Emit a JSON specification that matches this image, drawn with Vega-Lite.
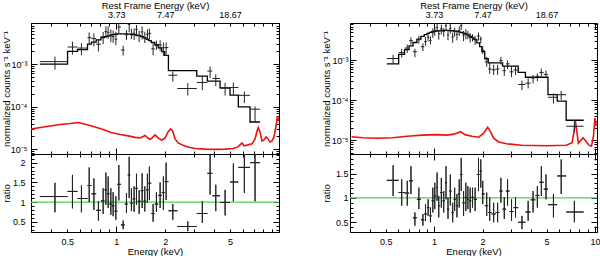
{
"$schema": "https://vega.github.io/schema/vega-lite/v6.json",
"padding": 0,
"columns": 2,
"spacing": {"row": 0, "column": 71},
"bounds": "flush",
"config": {
  "font": "Liberation Sans",
  "view": {"stroke": "#000", "strokeWidth": 1},
  "axis": {"domain": false, "grid": false, "tickColor": "#000", "tickWidth": 1, "labelColor": "#000", "titleColor": "#000", "labelFontSize": 9, "titleFontSize": 9.5, "titleFontWeight": "normal", "labelOverlap": false, "labelFlush": false}
},
"datasets": {
"L": [
{"E":0.421,"lo":0.34,"hi":0.503,"r":1.14,"rl":0.74,"rh":1.49,"d":0.00114,"dl":0.00074,"dh":0.00149},
{"E":0.539,"lo":0.503,"hi":0.579,"r":1.27,"rl":0.84,"rh":1.69,"d":0.00251,"dl":0.00166,"dh":0.00335},
{"E":0.612,"lo":0.579,"hi":0.667,"r":1.09,"rl":0.74,"rh":1.42,"d":0.00237,"dl":0.00161,"dh":0.00308},
{"E":0.683,"lo":0.667,"hi":0.705,"r":1.42,"rl":1.0,"rh":1.88,"d":0.00416,"dl":0.00293,"dh":0.00551},
{"E":0.73,"lo":0.705,"hi":0.754,"r":1.21,"rl":0.8,"rh":1.6,"d":0.00396,"dl":0.00262,"dh":0.00523},
{"E":0.778,"lo":0.754,"hi":0.806,"r":0.79,"rl":0.53,"rh":1.02,"d":0.00292,"dl":0.00196,"dh":0.00377},
{"E":0.832,"lo":0.806,"hi":0.848,"r":1.03,"rl":0.7,"rh":1.35,"d":0.00433,"dl":0.00294,"dh":0.00567},
{"E":0.865,"lo":0.848,"hi":0.878,"r":1.31,"rl":0.93,"rh":1.75,"d":0.00576,"dl":0.00409,"dh":0.0077},
{"E":0.893,"lo":0.878,"hi":0.91,"r":1.21,"rl":0.85,"rh":1.65,"d":0.00557,"dl":0.00391,"dh":0.00759},
{"E":0.928,"lo":0.91,"hi":0.942,"r":0.95,"rl":0.68,"rh":1.35,"d":0.00456,"dl":0.00326,"dh":0.00648},
{"E":0.958,"lo":0.942,"hi":0.976,"r":0.9,"rl":0.64,"rh":1.25,"d":0.00441,"dl":0.00314,"dh":0.00613},
{"E":0.996,"lo":0.976,"hi":1.017,"r":0.77,"rl":0.55,"rh":1.15,"d":0.00385,"dl":0.00275,"dh":0.00575},
{"E":1.039,"lo":1.017,"hi":1.07,"r":1.45,"rl":1.04,"rh":1.94,"d":0.0074,"dl":0.0053,"dh":0.00989},
{"E":1.104,"lo":1.07,"hi":1.129,"r":0.42,"rl":0.31,"rh":0.53,"d":0.00214,"dl":0.00158,"dh":0.0027},
{"E":1.157,"lo":1.129,"hi":1.178,"r":0.95,"rl":0.72,"rh":1.23,"d":0.00485,"dl":0.00367,"dh":0.00627},
{"E":1.202,"lo":1.178,"hi":1.22,"r":1.69,"rl":1.1,"rh":2.15,"d":0.00853,"dl":0.00556,"dh":0.01086},
{"E":1.241,"lo":1.22,"hi":1.264,"r":0.97,"rl":0.77,"rh":1.35,"d":0.00485,"dl":0.00385,"dh":0.00675},
{"E":1.289,"lo":1.264,"hi":1.31,"r":1.08,"rl":0.75,"rh":1.4,"d":0.00529,"dl":0.00368,"dh":0.00686},
{"E":1.333,"lo":1.31,"hi":1.357,"r":1.35,"rl":0.93,"rh":1.72,"d":0.00648,"dl":0.00446,"dh":0.00826},
{"E":1.384,"lo":1.357,"hi":1.414,"r":1.02,"rl":0.7,"rh":1.3,"d":0.00474,"dl":0.00326,"dh":0.00605},
{"E":1.444,"lo":1.414,"hi":1.471,"r":1.29,"rl":0.85,"rh":1.73,"d":0.00568,"dl":0.00374,"dh":0.00761},
{"E":1.5,"lo":1.471,"hi":1.528,"r":1.02,"rl":0.76,"rh":1.4,"d":0.00418,"dl":0.00312,"dh":0.00574},
{"E":1.556,"lo":1.528,"hi":1.579,"r":1.31,"rl":0.98,"rh":1.72,"d":0.00498,"dl":0.00372,"dh":0.00654},
{"E":1.6,"lo":1.579,"hi":1.642,"r":1.48,"rl":1.05,"rh":1.9,"d":0.00525,"dl":0.00373,"dh":0.00675},
{"E":1.686,"lo":1.642,"hi":1.725,"r":0.71,"rl":0.5,"rh":0.95,"d":0.00227,"dl":0.0016,"dh":0.00304},
{"E":1.767,"lo":1.725,"hi":1.813,"r":0.95,"rl":0.75,"rh":1.25,"d":0.00271,"dl":0.00214,"dh":0.00356},
{"E":1.862,"lo":1.813,"hi":1.905,"r":1.17,"rl":0.85,"rh":1.5,"d":0.00281,"dl":0.00204,"dh":0.0036},
{"E":1.95,"lo":1.905,"hi":1.987,"r":1.24,"rl":0.8,"rh":1.65,"d":0.00242,"dl":0.00156,"dh":0.00322},
{"E":2.027,"lo":1.987,"hi":2.094,"r":1.52,"rl":1.05,"rh":2.0,"d":0.00243,"dl":0.00168,"dh":0.0032},
{"E":2.229,"lo":2.094,"hi":2.377,"r":0.78,"rl":0.55,"rh":0.95,"d":0.000546,"dl":0.000385,"dh":0.000665},
{"E":2.754,"lo":2.377,"hi":3.127,"r":0.38,"rl":0.26,"rh":0.51,"d":0.000266,"dl":0.000182,"dh":0.000357},
{"E":3.382,"lo":3.127,"hi":3.632,"r":0.71,"rl":0.47,"rh":1.02,"d":0.000369,"dl":0.000244,"dh":0.00053},
{"E":3.774,"lo":3.632,"hi":3.897,"r":1.73,"rl":1.19,"rh":2.2,"d":0.000683,"dl":0.00047,"dh":0.000869},
{"E":4.091,"lo":3.897,"hi":4.345,"r":1.16,"rl":0.77,"rh":1.44,"d":0.000458,"dl":0.000304,"dh":0.000569},
{"E":4.667,"lo":4.345,"hi":5.005,"r":0.99,"rl":0.66,"rh":1.31,"d":0.000272,"dl":0.000182,"dh":0.00036},
{"E":5.245,"lo":5.005,"hi":5.627,"r":1.51,"rl":1.02,"rh":1.98,"d":0.000281,"dl":0.00019,"dh":0.000368},
{"E":6.128,"lo":5.627,"hi":6.639,"r":1.88,"rl":1.23,"rh":2.3,"d":0.000184,"dl":0.000121,"dh":0.000225},
{"E":7.126,"lo":6.639,"hi":7.644,"r":2.0,"rl":1.02,"rh":2.3,"d":0.000087,"dl":0.0000444,"dh":0.0001}
],
"LM": [
{"E":0.34,"m":0.001},{"E":0.503,"m":0.00198},{"E":0.579,"m":0.00217},{"E":0.667,"m":0.00293},{"E":0.705,"m":0.00327},{"E":0.754,"m":0.0037},{"E":0.806,"m":0.0042},{"E":0.848,"m":0.0044},{"E":0.878,"m":0.0046},{"E":0.91,"m":0.0048},{"E":0.942,"m":0.0049},{"E":0.976,"m":0.005},{"E":1.017,"m":0.0051},{"E":1.07,"m":0.0051},{"E":1.129,"m":0.0051},{"E":1.178,"m":0.00505},{"E":1.22,"m":0.005},{"E":1.264,"m":0.0049},{"E":1.31,"m":0.0048},{"E":1.357,"m":0.00465},{"E":1.414,"m":0.0044},{"E":1.471,"m":0.0041},{"E":1.528,"m":0.0038},{"E":1.579,"m":0.00355},{"E":1.642,"m":0.0032},{"E":1.725,"m":0.00285},{"E":1.813,"m":0.0024},{"E":1.905,"m":0.00195},{"E":1.987,"m":0.0016},{"E":2.094,"m":0.0007},{"E":3.127,"m":0.00052},{"E":3.632,"m":0.000395},{"E":4.345,"m":0.000275},{"E":5.005,"m":0.000186},{"E":5.627,"m":0.000098},{"E":6.639,"m":0.0000435},{"E":7.644,"m":0.0000435}
],
"LR": [
{"E":0.297,"v":2.93e-5},{"E":0.342,"v":3.23e-5},{"E":0.394,"v":3.5e-5},{"E":0.453,"v":3.8e-5},{"E":0.522,"v":4.01e-5},{"E":0.584,"v":4.23e-5},{"E":0.619,"v":4.01e-5},{"E":0.673,"v":3.7e-5},{"E":0.743,"v":3.32e-5},{"E":0.832,"v":2.9e-5},{"E":0.932,"v":2.47e-5},{"E":1.058,"v":2.22e-5},{"E":1.185,"v":2.05e-5},{"E":1.308,"v":1.89e-5},{"E":1.404,"v":1.84e-5},{"E":1.464,"v":1.99e-5},{"E":1.506,"v":2.1e-5},{"E":1.55,"v":1.89e-5},{"E":1.617,"v":1.69e-5},{"E":1.663,"v":1.84e-5},{"E":1.735,"v":2.16e-5},{"E":1.81,"v":1.84e-5},{"E":1.907,"v":1.62e-5},{"E":1.998,"v":1.84e-5},{"E":2.084,"v":2.54e-5},{"E":2.16,"v":2.98e-5},{"E":2.222,"v":2.68e-5},{"E":2.301,"v":1.74e-5},{"E":2.401,"v":1.4e-5},{"E":2.577,"v":1.23e-5},{"E":2.765,"v":1.13e-5},{"E":3.052,"v":1.04e-5},{"E":3.516,"v":1.0e-5},{"E":4.05,"v":0.99e-5},{"E":4.665,"v":1.0e-5},{"E":5.222,"v":1.04e-5},{"E":5.604,"v":1.13e-5},{"E":5.765,"v":1.26e-5},{"E":5.929,"v":1.4e-5},{"E":6.099,"v":1.19e-5},{"E":6.454,"v":1.26e-5},{"E":6.83,"v":1.33e-5},{"E":7.125,"v":1.74e-5},{"E":7.329,"v":2.68e-5},{"E":7.464,"v":3.23e-5},{"E":7.645,"v":2.54e-5},{"E":7.864,"v":1.56e-5},{"E":8.091,"v":1.65e-5},{"E":8.323,"v":1.94e-5},{"E":8.562,"v":1.74e-5},{"E":8.807,"v":1.48e-5},{"E":9.059,"v":1.56e-5},{"E":9.318,"v":1.94e-5},{"E":9.585,"v":3.5e-5},{"E":9.79,"v":6.0e-5},{"E":9.93,"v":4.58e-5}
],
"R": [
{"E":0.556,"lo":0.508,"hi":0.602,"r":1.36,"rl":1.04,"rh":1.67,"d":0.001115,"dl":0.000853,"dh":0.001369},
{"E":0.629,"lo":0.602,"hi":0.655,"r":1.11,"rl":0.84,"rh":1.38,"d":0.001565,"dl":0.001184,"dh":0.001946},
{"E":0.681,"lo":0.655,"hi":0.699,"r":1.1,"rl":0.84,"rh":1.35,"d":0.002035,"dl":0.001554,"dh":0.002498},
{"E":0.718,"lo":0.699,"hi":0.739,"r":1.35,"rl":1.08,"rh":1.65,"d":0.003105,"dl":0.002484,"dh":0.003795},
{"E":0.76,"lo":0.739,"hi":0.782,"r":0.59,"rl":0.43,"rh":0.7,"d":0.001652,"dl":0.001204,"dh":0.00196},
{"E":0.804,"lo":0.782,"hi":0.828,"r":0.97,"rl":0.77,"rh":1.21,"d":0.003298,"dl":0.002618,"dh":0.004114},
{"E":0.852,"lo":0.828,"hi":0.868,"r":0.55,"rl":0.43,"rh":0.67,"d":0.0022,"dl":0.00172,"dh":0.00268},
{"E":0.884,"lo":0.868,"hi":0.902,"r":0.67,"rl":0.53,"rh":0.87,"d":0.002948,"dl":0.002332,"dh":0.003828},
{"E":0.918,"lo":0.902,"hi":0.934,"r":0.8,"rl":0.63,"rh":0.97,"d":0.0038,"dl":0.002993,"dh":0.004608},
{"E":0.949,"lo":0.934,"hi":0.965,"r":0.63,"rl":0.5,"rh":0.8,"d":0.00315,"dl":0.0025,"dh":0.004},
{"E":0.982,"lo":0.965,"hi":0.996,"r":0.94,"rl":0.7,"rh":1.21,"d":0.004888,"dl":0.00364,"dh":0.006292},
{"E":1.01,"lo":0.996,"hi":1.027,"r":1.04,"rl":0.77,"rh":1.31,"d":0.005564,"dl":0.00412,"dh":0.007009},
{"E":1.044,"lo":1.027,"hi":1.057,"r":1.21,"rl":0.94,"rh":1.52,"d":0.006595,"dl":0.005123,"dh":0.008284},
{"E":1.069,"lo":1.057,"hi":1.089,"r":0.84,"rl":0.6,"rh":1.04,"d":0.00462,"dl":0.0033,"dh":0.00572},
{"E":1.109,"lo":1.089,"hi":1.128,"r":1.11,"rl":0.8,"rh":1.41,"d":0.006161,"dl":0.00444,"dh":0.007826},
{"E":1.148,"lo":1.128,"hi":1.168,"r":0.94,"rl":0.7,"rh":1.14,"d":0.005264,"dl":0.00392,"dh":0.006384},
{"E":1.186,"lo":1.168,"hi":1.203,"r":1.31,"rl":0.97,"rh":1.65,"d":0.007336,"dl":0.005432,"dh":0.00924},
{"E":1.22,"lo":1.203,"hi":1.241,"r":0.77,"rl":0.57,"rh":1.01,"d":0.004312,"dl":0.003192,"dh":0.005656},
{"E":1.261,"lo":1.241,"hi":1.283,"r":1.14,"rl":0.84,"rh":1.48,"d":0.006327,"dl":0.004662,"dh":0.008214},
{"E":1.305,"lo":1.283,"hi":1.323,"r":0.7,"rl":0.5,"rh":0.9,"d":0.00385,"dl":0.00275,"dh":0.00495},
{"E":1.342,"lo":1.323,"hi":1.365,"r":0.97,"rl":0.73,"rh":1.21,"d":0.005238,"dl":0.003942,"dh":0.006534},
{"E":1.387,"lo":1.365,"hi":1.411,"r":0.84,"rl":0.6,"rh":1.08,"d":0.004452,"dl":0.00318,"dh":0.005724},
{"E":1.433,"lo":1.411,"hi":1.453,"r":1.08,"rl":0.8,"rh":1.38,"d":0.005562,"dl":0.00412,"dh":0.007107},
{"E":1.474,"lo":1.453,"hi":1.499,"r":1.48,"rl":1.14,"rh":1.82,"d":0.0074,"dl":0.0057,"dh":0.0091},
{"E":1.525,"lo":1.499,"hi":1.551,"r":0.9,"rl":0.63,"rh":1.14,"d":0.00432,"dl":0.003024,"dh":0.005472},
{"E":1.576,"lo":1.551,"hi":1.599,"r":1.01,"rl":0.73,"rh":1.31,"d":0.004646,"dl":0.003358,"dh":0.006026},
{"E":1.622,"lo":1.599,"hi":1.649,"r":0.97,"rl":0.77,"rh":1.24,"d":0.004268,"dl":0.003388,"dh":0.005456},
{"E":1.676,"lo":1.649,"hi":1.704,"r":0.94,"rl":0.7,"rh":1.21,"d":0.00376,"dl":0.0028,"dh":0.00484},
{"E":1.734,"lo":1.704,"hi":1.766,"r":1.01,"rl":0.8,"rh":1.21,"d":0.003737,"dl":0.00296,"dh":0.004477},
{"E":1.799,"lo":1.766,"hi":1.843,"r":0.97,"rl":0.73,"rh":1.21,"d":0.00325,"dl":0.002446,"dh":0.004054},
{"E":1.888,"lo":1.843,"hi":1.92,"r":1.48,"rl":1.14,"rh":1.82,"d":0.00407,"dl":0.003135,"dh":0.005005},
{"E":1.951,"lo":1.92,"hi":1.979,"r":1.55,"rl":1.21,"rh":1.79,"d":0.00341,"dl":0.002662,"dh":0.003938},
{"E":2.007,"lo":1.979,"hi":2.065,"r":1.08,"rl":0.87,"rh":1.35,"d":0.001782,"dl":0.001436,"dh":0.002228},
{"E":2.124,"lo":2.065,"hi":2.17,"r":0.84,"rl":0.63,"rh":1.11,"d":0.000924,"dl":0.000693,"dh":0.001221},
{"E":2.217,"lo":2.17,"hi":2.28,"r":0.7,"rl":0.53,"rh":1.01,"d":0.000609,"dl":0.000461,"dh":0.000879},
{"E":2.346,"lo":2.28,"hi":2.414,"r":0.67,"rl":0.5,"rh":0.9,"d":0.000583,"dl":0.000435,"dh":0.000783},
{"E":2.483,"lo":2.414,"hi":2.544,"r":0.7,"rl":0.5,"rh":0.9,"d":0.000609,"dl":0.000435,"dh":0.000783},
{"E":2.602,"lo":2.544,"hi":2.666,"r":1.14,"rl":0.9,"rh":1.41,"d":0.000992,"dl":0.000783,"dh":0.001227},
{"E":2.731,"lo":2.666,"hi":2.798,"r":0.77,"rl":0.57,"rh":1.01,"d":0.000554,"dl":0.00041,"dh":0.000727},
{"E":2.863,"lo":2.798,"hi":2.945,"r":1.14,"rl":0.84,"rh":1.38,"d":0.000821,"dl":0.000605,"dh":0.000994},
{"E":3.03,"lo":2.945,"hi":3.117,"r":0.72,"rl":0.53,"rh":0.97,"d":0.000518,"dl":0.000382,"dh":0.000698},
{"E":3.208,"lo":3.117,"hi":3.332,"r":0.8,"rl":0.6,"rh":1.01,"d":0.000576,"dl":0.000432,"dh":0.000727},
{"E":3.518,"lo":3.332,"hi":3.698,"r":0.5,"rl":0.36,"rh":0.63,"d":0.00025,"dl":0.00018,"dh":0.000315},
{"E":3.843,"lo":3.698,"hi":3.981,"r":0.71,"rl":0.53,"rh":0.94,"d":0.00027,"dl":0.000201,"dh":0.000357},
{"E":4.125,"lo":3.981,"hi":4.262,"r":0.96,"rl":0.7,"rh":1.14,"d":0.000365,"dl":0.000266,"dh":0.000433},
{"E":4.385,"lo":4.262,"hi":4.511,"r":1.05,"rl":0.8,"rh":1.24,"d":0.000399,"dl":0.000304,"dh":0.000471},
{"E":4.642,"lo":4.511,"hi":4.803,"r":1.32,"rl":1.04,"rh":1.65,"d":0.000502,"dl":0.000395,"dh":0.000627},
{"E":4.962,"lo":4.803,"hi":5.105,"r":1.18,"rl":0.97,"rh":1.48,"d":0.000448,"dl":0.000369,"dh":0.000562},
{"E":5.521,"lo":5.105,"hi":5.827,"r":0.86,"rl":0.6,"rh":1.08,"d":0.00012,"dl":0.000084,"dh":0.000151},
{"E":6.168,"lo":5.827,"hi":6.622,"r":1.45,"rl":1.08,"rh":1.79,"d":0.000139,"dl":0.000104,"dh":0.000172},
{"E":7.449,"lo":6.622,"hi":8.515,"r":0.71,"rl":0.5,"rh":0.94,"d":0.0000227,"dl":0.000016,"dh":0.0000301}
],
"RM": [
{"E":0.508,"m":0.00082},{"E":0.602,"m":0.00141},{"E":0.655,"m":0.00185},{"E":0.699,"m":0.0023},{"E":0.739,"m":0.0028},{"E":0.782,"m":0.0034},{"E":0.828,"m":0.004},{"E":0.868,"m":0.0044},{"E":0.902,"m":0.00475},{"E":0.934,"m":0.005},{"E":0.965,"m":0.0052},{"E":0.996,"m":0.00535},{"E":1.027,"m":0.00545},{"E":1.057,"m":0.0055},{"E":1.089,"m":0.00555},{"E":1.128,"m":0.0056},{"E":1.203,"m":0.0056},{"E":1.241,"m":0.00555},{"E":1.283,"m":0.0055},{"E":1.323,"m":0.0054},{"E":1.365,"m":0.0053},{"E":1.411,"m":0.00515},{"E":1.453,"m":0.005},{"E":1.499,"m":0.0048},{"E":1.551,"m":0.0046},{"E":1.599,"m":0.0044},{"E":1.649,"m":0.004},{"E":1.704,"m":0.0037},{"E":1.766,"m":0.00335},{"E":1.843,"m":0.00275},{"E":1.92,"m":0.0022},{"E":1.979,"m":0.00165},{"E":2.065,"m":0.0011},{"E":2.17,"m":0.00087},{"E":2.666,"m":0.00072},{"E":3.332,"m":0.0005},{"E":3.698,"m":0.00038},{"E":5.105,"m":0.00014},{"E":5.827,"m":0.000096},{"E":6.622,"m":0.000032},{"E":8.515,"m":0.000032}
],
"RR": [
{"E":0.307,"v":1.245e-5},{"E":0.36,"v":1.175e-5},{"E":0.445,"v":1.14e-5},{"E":0.551,"v":1.175e-5},{"E":0.681,"v":1.28e-5},{"E":0.843,"v":1.36e-5},{"E":1.043,"v":1.4e-5},{"E":1.203,"v":1.36e-5},{"E":1.329,"v":1.44e-5},{"E":1.462,"v":1.66e-5},{"E":1.554,"v":1.4e-5},{"E":1.717,"v":1.28e-5},{"E":1.896,"v":1.21e-5},{"E":2.035,"v":1.52e-5},{"E":2.154,"v":2.15e-5},{"E":2.248,"v":1.61e-5},{"E":2.346,"v":1.14e-5},{"E":2.519,"v":9.2e-6},{"E":2.822,"v":8.3e-6},{"E":3.493,"v":7.63e-6},{"E":4.984,"v":7.41e-6},{"E":6.622,"v":7.63e-6},{"E":7.211,"v":8.8e-6},{"E":7.419,"v":1.71e-5},{"E":7.556,"v":3.04e-5},{"E":7.686,"v":1.92e-5},{"E":7.885,"v":8.56e-6},{"E":8.195,"v":1.02e-5},{"E":8.432,"v":1.175e-5},{"E":8.8,"v":9.6e-6},{"E":9.183,"v":7.63e-6},{"E":9.515,"v":7.2e-6},{"E":9.789,"v":1.28e-5},{"E":10.0,"v":3.61e-5},{"E":10.21,"v":2.28e-5}
]
},
"concat": [
{
 "width": 248, "height": 131,
 "resolve": {"axis": {"x": "independent", "y": "independent"}},
 "layer": [
  {"data": {"name": "LR"}, "mark": {"type": "line", "color": "#ee1111", "strokeWidth": 1.6, "clip": true},
   "encoding": {
    "x": {"field": "E", "type": "quantitative", "scale": {"type": "log", "domain": [0.3, 10], "nice": false}, "axis": {"orient": "bottom", "values": [0.3,0.4,0.5,0.6,0.7,0.8,0.9,2,3,4,5,6,7,8,9], "tickSize": -3, "labels": false, "title": null}},
    "y": {"field": "v", "type": "quantitative", "scale": {"type": "log", "domain": [7.7e-6, 9.2e-3], "nice": false}, "axis": {"orient": "left", "values": [1e-5, 1e-4, 1e-3], "tickSize": -6, "labelPadding": 10, "labelExpr": "datum.value < 3e-5 ? '10⁻⁵' : datum.value < 3e-4 ? '10⁻⁴' : '10⁻³'", "title": "normalized counts s⁻¹ keV⁻¹", "titleX": -20, "titleY": 65.5, "titleAngle": -90, "titleBaseline": "bottom", "titleAlign": "center"}}
   }},
  {"data": {"name": "LM"}, "mark": {"type": "line", "interpolate": "step-after", "color": "#000", "strokeWidth": 1.3, "clip": true},
   "encoding": {
    "x": {"field": "E", "type": "quantitative", "scale": {"type": "log", "domain": [0.3, 10], "nice": false}, "axis": {"orient": "top", "values": [0.3,0.4,0.5,0.6,0.7,0.8,0.9,1,2,3,4,5,6,7,8,9], "tickSize": -3, "labelPadding": 6.5, "labelExpr": "datum.value == 1 ? '3.73' : datum.value == 2 ? '7.47' : datum.value == 5 ? '18.67' : ''", "title": "Rest Frame Energy (keV)", "titleY": -14.2, "titleBaseline": "alphabetic"}},
    "y": {"field": "m", "type": "quantitative", "scale": {"type": "log", "domain": [7.7e-6, 9.2e-3], "nice": false}, "axis": {"orient": "right", "values": [1e-5, 1e-4, 1e-3], "tickSize": -6, "labels": false, "title": null}}
   }},
  {"data": {"name": "L"}, "mark": {"type": "rule", "color": "#222", "strokeWidth": 1, "clip": true},
   "encoding": {
    "x": {"field": "lo", "type": "quantitative", "scale": {"type": "log", "domain": [0.3, 10], "nice": false}, "axis": {"orient": "top", "values": [1, 10], "tickSize": -6, "labels": false, "title": null}},
    "x2": {"field": "hi"},
    "y": {"field": "d", "type": "quantitative", "scale": {"type": "log", "domain": [7.7e-6, 9.2e-3], "nice": false}, "axis": {"orient": "left", "values": [8e-6,9e-6,2e-5,3e-5,4e-5,5e-5,6e-5,7e-5,8e-5,9e-5,2e-4,3e-4,4e-4,5e-4,6e-4,7e-4,8e-4,9e-4,2e-3,3e-3,4e-3,5e-3,6e-3,7e-3,8e-3,9e-3], "tickSize": -3, "labels": false, "title": null}}
   }},
  {"data": {"name": "L"}, "mark": {"type": "rule", "color": "#222", "strokeWidth": 1, "clip": true},
   "encoding": {
    "x": {"field": "E", "type": "quantitative", "scale": {"type": "log", "domain": [0.3, 10], "nice": false}, "axis": {"orient": "bottom", "values": [1, 10], "tickSize": -6, "labels": false, "title": null}},
    "y": {"field": "dl", "type": "quantitative", "scale": {"type": "log", "domain": [7.7e-6, 9.2e-3], "nice": false}, "axis": {"orient": "right", "values": [8e-6,9e-6,2e-5,3e-5,4e-5,5e-5,6e-5,7e-5,8e-5,9e-5,2e-4,3e-4,4e-4,5e-4,6e-4,7e-4,8e-4,9e-4,2e-3,3e-3,4e-3,5e-3,6e-3,7e-3,8e-3,9e-3], "tickSize": -3, "labels": false, "title": null}},
    "y2": {"field": "dh"}
   }}
 ]
},
{
 "width": 247, "height": 131,
 "resolve": {"axis": {"x": "independent", "y": "independent"}},
 "layer": [
  {"data": {"name": "RR"}, "mark": {"type": "line", "color": "#ee1111", "strokeWidth": 1.6, "clip": true},
   "encoding": {
    "x": {"field": "E", "type": "quantitative", "scale": {"type": "log", "domain": [0.3, 10.3], "nice": false}, "axis": {"orient": "bottom", "values": [0.3,0.4,0.5,0.6,0.7,0.8,0.9,2,3,4,5,6,7,8,9], "tickSize": -3, "labels": false, "title": null}},
    "y": {"field": "v", "type": "quantitative", "scale": {"type": "log", "domain": [4.6e-6, 8.6e-3], "nice": false}, "axis": {"orient": "left", "values": [1e-5, 1e-4, 1e-3], "tickSize": -6, "labelPadding": 8, "labelExpr": "datum.value < 3e-5 ? '10⁻⁵' : datum.value < 3e-4 ? '10⁻⁴' : '10⁻³'", "title": "normalized counts s⁻¹ keV⁻¹", "titleX": -18.5, "titleY": 65.5, "titleAngle": -90, "titleBaseline": "bottom", "titleAlign": "center"}}
   }},
  {"data": {"name": "RM"}, "mark": {"type": "line", "interpolate": "step-after", "color": "#000", "strokeWidth": 1.3, "clip": true},
   "encoding": {
    "x": {"field": "E", "type": "quantitative", "scale": {"type": "log", "domain": [0.3, 10.3], "nice": false}, "axis": {"orient": "top", "values": [0.3,0.4,0.5,0.6,0.7,0.8,0.9,1,2,3,4,5,6,7,8,9], "tickSize": -3, "labelPadding": 6.5, "labelExpr": "datum.value == 1 ? '3.73' : datum.value == 2 ? '7.47' : datum.value == 5 ? '18.67' : ''", "title": "Rest Frame Energy (keV)", "titleY": -14.2, "titleBaseline": "alphabetic"}},
    "y": {"field": "m", "type": "quantitative", "scale": {"type": "log", "domain": [4.6e-6, 8.6e-3], "nice": false}, "axis": {"orient": "right", "values": [1e-5, 1e-4, 1e-3], "tickSize": -6, "labels": false, "title": null}}
   }},
  {"data": {"name": "R"}, "mark": {"type": "rule", "color": "#222", "strokeWidth": 1, "clip": true},
   "encoding": {
    "x": {"field": "lo", "type": "quantitative", "scale": {"type": "log", "domain": [0.3, 10.3], "nice": false}, "axis": {"orient": "top", "values": [1, 10], "tickSize": -6, "labels": false, "title": null}},
    "x2": {"field": "hi"},
    "y": {"field": "d", "type": "quantitative", "scale": {"type": "log", "domain": [4.6e-6, 8.6e-3], "nice": false}, "axis": {"orient": "left", "values": [5e-6,6e-6,7e-6,8e-6,9e-6,2e-5,3e-5,4e-5,5e-5,6e-5,7e-5,8e-5,9e-5,2e-4,3e-4,4e-4,5e-4,6e-4,7e-4,8e-4,9e-4,2e-3,3e-3,4e-3,5e-3,6e-3,7e-3,8e-3], "tickSize": -3, "labels": false, "title": null}}
   }},
  {"data": {"name": "R"}, "mark": {"type": "rule", "color": "#222", "strokeWidth": 1, "clip": true},
   "encoding": {
    "x": {"field": "E", "type": "quantitative", "scale": {"type": "log", "domain": [0.3, 10.3], "nice": false}, "axis": {"orient": "bottom", "values": [1, 10], "tickSize": -6, "labels": false, "title": null}},
    "y": {"field": "dl", "type": "quantitative", "scale": {"type": "log", "domain": [4.6e-6, 8.6e-3], "nice": false}, "axis": {"orient": "right", "values": [5e-6,6e-6,7e-6,8e-6,9e-6,2e-5,3e-5,4e-5,5e-5,6e-5,7e-5,8e-5,9e-5,2e-4,3e-4,4e-4,5e-4,6e-4,7e-4,8e-4,9e-4,2e-3,3e-3,4e-3,5e-3,6e-3,7e-3,8e-3], "tickSize": -3, "labels": false, "title": null}},
    "y2": {"field": "dh"}
   }}
 ]
},
{
 "width": 248, "height": 78,
 "resolve": {"axis": {"x": "independent", "y": "independent"}},
 "layer": [
  {"data": {"values": [{}]}, "mark": {"type": "rule", "color": "#4ed34e", "strokeWidth": 1.2},
   "encoding": {
    "y": {"datum": 1, "type": "quantitative", "scale": {"domain": [0.24, 2.22], "nice": false, "zero": false}, "axis": {"orient": "left", "values": [0.5, 1, 1.5, 2], "tickSize": -6, "labelPadding": 12, "labelExpr": "datum.value + ''", "title": "ratio", "titleX": -20, "titleY": 39, "titleAngle": -90, "titleBaseline": "bottom", "titleAlign": "center"}}
   }},
  {"data": {"name": "L"}, "mark": {"type": "rule", "color": "#222", "strokeWidth": 1, "clip": true},
   "encoding": {
    "x": {"field": "lo", "type": "quantitative", "scale": {"type": "log", "domain": [0.3, 10], "nice": false}, "axis": {"orient": "bottom", "values": [0.3,0.4,0.5,0.6,0.7,0.8,0.9,1,2,3,4,5,6,7,8,9], "tickSize": -3, "labelPadding": 8, "labelExpr": "(datum.value == 0.5 || datum.value == 1 || datum.value == 2 || datum.value == 5) ? datum.value + '' : ''", "title": "Energy (keV)", "titleY": 22.5, "titleBaseline": "alphabetic"}},
    "x2": {"field": "hi"},
    "y": {"field": "r", "type": "quantitative", "scale": {"domain": [0.24, 2.22], "nice": false, "zero": false}, "axis": {"orient": "right", "values": [0.5, 1, 1.5, 2], "tickSize": -6, "labels": false, "title": null}}
   }},
  {"data": {"name": "L"}, "mark": {"type": "rule", "color": "#222", "strokeWidth": 1, "clip": true},
   "encoding": {
    "x": {"field": "E", "type": "quantitative", "scale": {"type": "log", "domain": [0.3, 10], "nice": false}, "axis": {"orient": "bottom", "values": [1, 10], "tickSize": -6, "labels": false, "title": null}},
    "y": {"field": "rl", "type": "quantitative", "scale": {"domain": [0.24, 2.22], "nice": false, "zero": false}, "axis": {"orient": "left", "values": [0.3,0.4,0.6,0.7,0.8,0.9,1.1,1.2,1.3,1.4,1.6,1.7,1.8,1.9,2.1,2.2], "tickSize": -3, "labels": false, "title": null}},
    "y2": {"field": "rh"}
   }},
  {"data": {"name": "L"}, "mark": {"type": "rule", "color": "#222", "strokeWidth": 1, "clip": true},
   "encoding": {
    "x": {"field": "lo", "type": "quantitative", "scale": {"type": "log", "domain": [0.3, 10], "nice": false}, "axis": {"orient": "top", "values": [0.3,0.4,0.5,0.6,0.7,0.8,0.9,2,3,4,5,6,7,8,9], "tickSize": -3, "labels": false, "title": null}},
    "x2": {"field": "hi"},
    "y": {"field": "r", "type": "quantitative", "scale": {"domain": [0.24, 2.22], "nice": false, "zero": false}, "axis": {"orient": "right", "values": [0.3,0.4,0.6,0.7,0.8,0.9,1.1,1.2,1.3,1.4,1.6,1.7,1.8,1.9,2.1,2.2], "tickSize": -3, "labels": false, "title": null}}
   }},
  {"data": {"name": "L"}, "mark": {"type": "rule", "color": "#222", "strokeWidth": 1, "clip": true},
   "encoding": {
    "x": {"field": "E", "type": "quantitative", "scale": {"type": "log", "domain": [0.3, 10], "nice": false}, "axis": {"orient": "top", "values": [1, 10], "tickSize": -6, "labels": false, "title": null}},
    "y": {"field": "rl", "type": "quantitative", "scale": {"domain": [0.24, 2.22], "nice": false, "zero": false}, "axis": null},
    "y2": {"field": "rh"}
   }}
 ]
},
{
 "width": 247, "height": 78,
 "resolve": {"axis": {"x": "independent", "y": "independent"}},
 "layer": [
  {"data": {"values": [{}]}, "mark": {"type": "rule", "color": "#4ed34e", "strokeWidth": 1.2},
   "encoding": {
    "y": {"datum": 1, "type": "quantitative", "scale": {"domain": [0.3, 1.9], "nice": false, "zero": false}, "axis": {"orient": "left", "values": [0.5, 1, 1.5], "tickSize": -6, "labelPadding": 8, "labelExpr": "datum.value + ''", "title": "ratio", "titleX": -18.5, "titleY": 39, "titleAngle": -90, "titleBaseline": "bottom", "titleAlign": "center"}}
   }},
  {"data": {"name": "R"}, "mark": {"type": "rule", "color": "#222", "strokeWidth": 1, "clip": true},
   "encoding": {
    "x": {"field": "lo", "type": "quantitative", "scale": {"type": "log", "domain": [0.3, 10.3], "nice": false}, "axis": {"orient": "bottom", "values": [0.3,0.4,0.5,0.6,0.7,0.8,0.9,1,2,3,4,5,6,7,8,9,10], "tickSize": -3, "labelPadding": 8, "labelExpr": "(datum.value == 0.5 || datum.value == 1 || datum.value == 2 || datum.value == 5 || datum.value == 10) ? datum.value + '' : ''", "title": "Energy (keV)", "titleY": 22.5, "titleBaseline": "alphabetic"}},
    "x2": {"field": "hi"},
    "y": {"field": "r", "type": "quantitative", "scale": {"domain": [0.3, 1.9], "nice": false, "zero": false}, "axis": {"orient": "right", "values": [0.5, 1, 1.5], "tickSize": -6, "labels": false, "title": null}}
   }},
  {"data": {"name": "R"}, "mark": {"type": "rule", "color": "#222", "strokeWidth": 1, "clip": true},
   "encoding": {
    "x": {"field": "E", "type": "quantitative", "scale": {"type": "log", "domain": [0.3, 10.3], "nice": false}, "axis": {"orient": "bottom", "values": [1, 10], "tickSize": -6, "labels": false, "title": null}},
    "y": {"field": "rl", "type": "quantitative", "scale": {"domain": [0.3, 1.9], "nice": false, "zero": false}, "axis": {"orient": "left", "values": [0.3,0.4,0.6,0.7,0.8,0.9,1.1,1.2,1.3,1.4,1.6,1.7,1.8,1.9], "tickSize": -3, "labels": false, "title": null}},
    "y2": {"field": "rh"}
   }},
  {"data": {"name": "R"}, "mark": {"type": "rule", "color": "#222", "strokeWidth": 1, "clip": true},
   "encoding": {
    "x": {"field": "lo", "type": "quantitative", "scale": {"type": "log", "domain": [0.3, 10.3], "nice": false}, "axis": {"orient": "top", "values": [0.3,0.4,0.5,0.6,0.7,0.8,0.9,2,3,4,5,6,7,8,9], "tickSize": -3, "labels": false, "title": null}},
    "x2": {"field": "hi"},
    "y": {"field": "r", "type": "quantitative", "scale": {"domain": [0.3, 1.9], "nice": false, "zero": false}, "axis": {"orient": "right", "values": [0.3,0.4,0.6,0.7,0.8,0.9,1.1,1.2,1.3,1.4,1.6,1.7,1.8,1.9], "tickSize": -3, "labels": false, "title": null}}
   }},
  {"data": {"name": "R"}, "mark": {"type": "rule", "color": "#222", "strokeWidth": 1, "clip": true},
   "encoding": {
    "x": {"field": "E", "type": "quantitative", "scale": {"type": "log", "domain": [0.3, 10.3], "nice": false}, "axis": {"orient": "top", "values": [1, 10], "tickSize": -6, "labels": false, "title": null}},
    "y": {"field": "rl", "type": "quantitative", "scale": {"domain": [0.3, 1.9], "nice": false, "zero": false}, "axis": null},
    "y2": {"field": "rh"}
   }}
 ]
}
]
}
